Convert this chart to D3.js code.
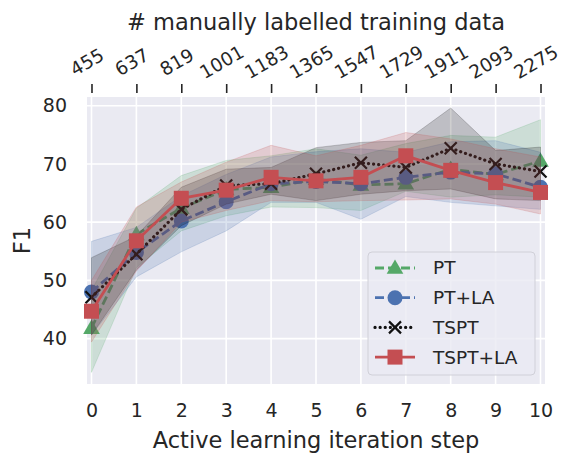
<!DOCTYPE html>
<html>
<head>
<meta charset="utf-8">
<script src="https://cdn.jsdelivr.net/npm/d3@7"></script>
<style>
  body { margin: 0; background: #fff; }
  text { font-family: "DejaVu Sans", sans-serif; fill: #262626; }
</style>
</head>
<body>
<div class="chart"></div>
<script>
// active learning steps and matching count of labelled samples
const steps = [0, 1, 2, 3, 4, 5, 6, 7, 8, 9, 10];
const labelledCounts = ['455', '637', '819', '1001', '1183', '1365', '1547', '1729', '1911', '2093', '2275'];
const yTicks = [40, 50, 60, 70, 80];

// mean F1 per series
const ptMean     = [41.8, 57.9, 62.4, 65.6, 66.0, 67.4, 66.4, 66.6, 69.1, 68.2, 70.5];
const ptLaMean   = [48.0, 54.8, 60.2, 63.5, 66.6, 67.0, 66.6, 67.7, 68.6, 68.3, 66.0];
const tsptMean   = [47.1, 54.5, 62.2, 66.3, 66.6, 68.3, 70.2, 69.4, 72.7, 70.0, 68.7];
const tsptLaMean = [44.7, 56.8, 64.1, 65.5, 67.7, 67.1, 67.7, 71.4, 68.9, 66.8, 65.1];

// confidence band, lower / upper
const ptLow      = [34.2, 52.2, 58.5, 61.1, 62.6, 62.5, 62.0, 65.3, 64.3, 64.7, 64.3];
const ptHigh     = [48.3, 62.4, 68.0, 70.6, 71.4, 72.6, 71.5, 73.5, 74.9, 74.6, 77.6];
const ptLaLow    = [40.6, 50.6, 54.9, 58.5, 63.4, 63.4, 60.5, 64.4, 63.4, 62.8, 62.2];
const ptLaHigh   = [56.7, 59.1, 64.5, 68.2, 71.2, 72.1, 72.6, 72.0, 73.8, 74.0, 72.0];
const tsptLow    = [40.6, 51.8, 59.4, 63.1, 64.8, 63.7, 64.8, 65.4, 65.7, 64.0, 63.7];
const tsptHigh   = [53.9, 57.6, 66.0, 69.1, 69.4, 72.8, 73.7, 74.0, 79.6, 72.3, 72.9];
const tsptLaLow  = [39.4, 51.6, 60.0, 62.0, 63.7, 63.5, 63.7, 63.8, 64.0, 63.1, 61.4];
const tsptLaHigh = [50.0, 62.6, 66.9, 70.3, 73.2, 71.4, 73.2, 75.4, 74.3, 72.6, 71.2];

const seriesNames = ['PT', 'PT+LA', 'TSPT', 'TSPT+LA'];

const series = [
  { name: seriesNames[0], mean: ptMean, low: ptLow, high: ptHigh, color: '#55a868', dash: '9,4', marker: 'triangle' },
  { name: seriesNames[1], mean: ptLaMean, low: ptLaLow, high: ptLaHigh, color: '#4c72b0', dash: '9,4', marker: 'circle' },
  { name: seriesNames[2], mean: tsptMean, low: tsptLow, high: tsptHigh, color: '#111111', dash: '0.1,5', marker: 'x' },
  { name: seriesNames[3], mean: tsptLaMean, low: tsptLaLow, high: tsptLaHigh, color: '#c44e52', dash: null, marker: 'square' },
];

const W = 561, H = 453;
const plot = { left: 87, right: 545, top: 97, bottom: 384 };

const svg = d3.select('.chart').append('svg')
  .attr('width', W)
  .attr('height', H);

const x = d3.scaleLinear().domain([-0.1, 10.1]).range([plot.left, plot.right]);
const y = d3.scaleLinear().domain([32.2, 81.5]).range([plot.bottom, plot.top]);

// 背景 + grid
svg.append('rect')
  .attr('x', plot.left).attr('y', plot.top)
  .attr('width', plot.right - plot.left).attr('height', plot.bottom - plot.top)
  .attr('fill', '#eaeaf2');

svg.append('g').selectAll('line').data(steps).join('line')
  .attr('x1', d => x(d)).attr('x2', d => x(d))
  .attr('y1', plot.top).attr('y2', plot.bottom)
  .attr('stroke', '#fff').attr('stroke-width', 1.6);

svg.append('g').selectAll('line').data(yTicks).join('line')
  .attr('x1', plot.left).attr('x2', plot.right)
  .attr('y1', d => y(d)).attr('y2', d => y(d))
  .attr('stroke', '#fff').attr('stroke-width', 1.6);

// axes (bottom / left) -- labels only, seaborn darkgrid has no tick marks
const xAxis = svg.append('g')
  .attr('transform', `translate(0,${plot.bottom + 16})`)
  .call(d3.axisBottom(x).tickValues(steps).tickFormat(d3.format('d')).tickSize(0));
xAxis.select('.domain').remove();
xAxis.selectAll('text')
  .attr('dy', '0.71em')
  .style('font-size', '19px')
  .style('font-family', '"DejaVu Sans", sans-serif')
  .attr('fill', '#262626');

const yAxis = svg.append('g')
  .attr('transform', `translate(${plot.left - 17},0)`)
  .call(d3.axisLeft(y).tickValues(yTicks).tickSize(0));
yAxis.select('.domain').remove();
yAxis.selectAll('text')
  .style('font-size', '19px')
  .style('font-family', '"DejaVu Sans", sans-serif')
  .attr('fill', '#262626');

// top axis: labelled data counts
const xTop = svg.append('g')
  .attr('transform', `translate(0,${plot.top - 4})`)
  .call(d3.axisTop(x).tickValues(steps).tickFormat(d => labelledCounts[d]).tickSize(9).tickPadding(12));
xTop.select('.domain').remove();
xTop.selectAll('line').attr('stroke', '#262626').attr('stroke-width', 1.6);
xTop.selectAll('text')
  .style('font-size', '18.5px')
  .style('font-family', '"DejaVu Sans", sans-serif')
  .attr('fill', '#262626')
  .attr('text-anchor', 'middle')
  .attr('dy', '0.35em')
  .attr('x', -5)
  .attr('y', -31)
  .attr('transform', 'rotate(-30 -5 -31)');

svg.append('text')
  .attr('x', (plot.left + plot.right) / 2).attr('y', 30)
  .attr('text-anchor', 'middle')
  .style('font-size', '22.5px')
  .text('# manually labelled training data');

svg.append('text')
  .attr('x', (plot.left + plot.right) / 2).attr('y', 448)
  .attr('text-anchor', 'middle')
  .style('font-size', '22.5px')
  .text('Active learning iteration step');

svg.append('text')
  .attr('transform', `translate(30,${(plot.top + plot.bottom) / 2}) rotate(-90)`)
  .attr('text-anchor', 'middle')
  .style('font-size', '22.5px')
  .text('F1');

// marker shapes
function drawMarker(g, kind, color, cx, cy) {
  if (kind === 'triangle') {
    g.append('path')
      .attr('d', d3.symbol(d3.symbolTriangle, 120)())
      .attr('transform', `translate(${cx},${cy + 1})`)
      .attr('fill', color);
  } else if (kind === 'circle') {
    g.append('circle').attr('cx', cx).attr('cy', cy).attr('r', 7.5).attr('fill', color);
  } else if (kind === 'square') {
    g.append('rect').attr('x', cx - 7.5).attr('y', cy - 7.5).attr('width', 15).attr('height', 15).attr('fill', color);
  } else {
    g.append('path')
      .attr('d', `M${cx - 6},${cy - 6}L${cx + 6},${cy + 6}M${cx - 6},${cy + 6}L${cx + 6},${cy - 6}`)
      .attr('stroke', color).attr('stroke-width', 2.2).attr('fill', 'none');
  }
}

const area = d3.area().x((d, i) => x(steps[i])).y0(d => y(d[0])).y1(d => y(d[1]));
const line = d3.line().x((d, i) => x(steps[i])).y(d => y(d));

const marks = svg.append('g');
series.forEach(s => {
  const g = marks.append('g');
  g.append('path')
    .attr('d', area(s.low.map((v, i) => [v, s.high[i]])))
    .attr('fill', s.color).attr('fill-opacity', 0.2)
    .attr('stroke', s.color).attr('stroke-opacity', 0.2);
  g.append('path')
    .attr('d', line(s.mean))
    .attr('fill', 'none')
    .attr('stroke', s.color)
    .attr('stroke-width', s.marker === 'x' ? 3.2 : 2.8)
    .attr('stroke-linecap', s.marker === 'x' ? 'round' : 'butt')
    .attr('stroke-dasharray', s.dash);
  s.mean.forEach((v, i) => drawMarker(g, s.marker, s.color, x(steps[i]), y(v)));
});

// legend
const lg = svg.append('g').attr('transform', 'translate(368,252)');
lg.append('rect')
  .attr('width', 167).attr('height', 123).attr('rx', 4)
  .attr('fill', '#eaeaf2').attr('fill-opacity', 0.8)
  .attr('stroke', '#d0d0d8').attr('stroke-width', 1);
series.forEach((s, i) => {
  const ry = 16 + i * 29.7;
  lg.append('line')
    .attr('x1', 7).attr('x2', 47).attr('y1', ry).attr('y2', ry)
    .attr('stroke', s.color)
    .attr('stroke-width', s.marker === 'x' ? 3.2 : 2.8)
    .attr('stroke-linecap', s.marker === 'x' ? 'round' : 'butt')
    .attr('stroke-dasharray', s.dash);
  drawMarker(lg, s.marker, s.color, 27, ry);
  lg.append('text')
    .attr('x', 65).attr('y', ry).attr('dy', '0.35em')
    .style('font-size', '18.5px')
    .text(s.name);
});
</script>
</body>
</html>
